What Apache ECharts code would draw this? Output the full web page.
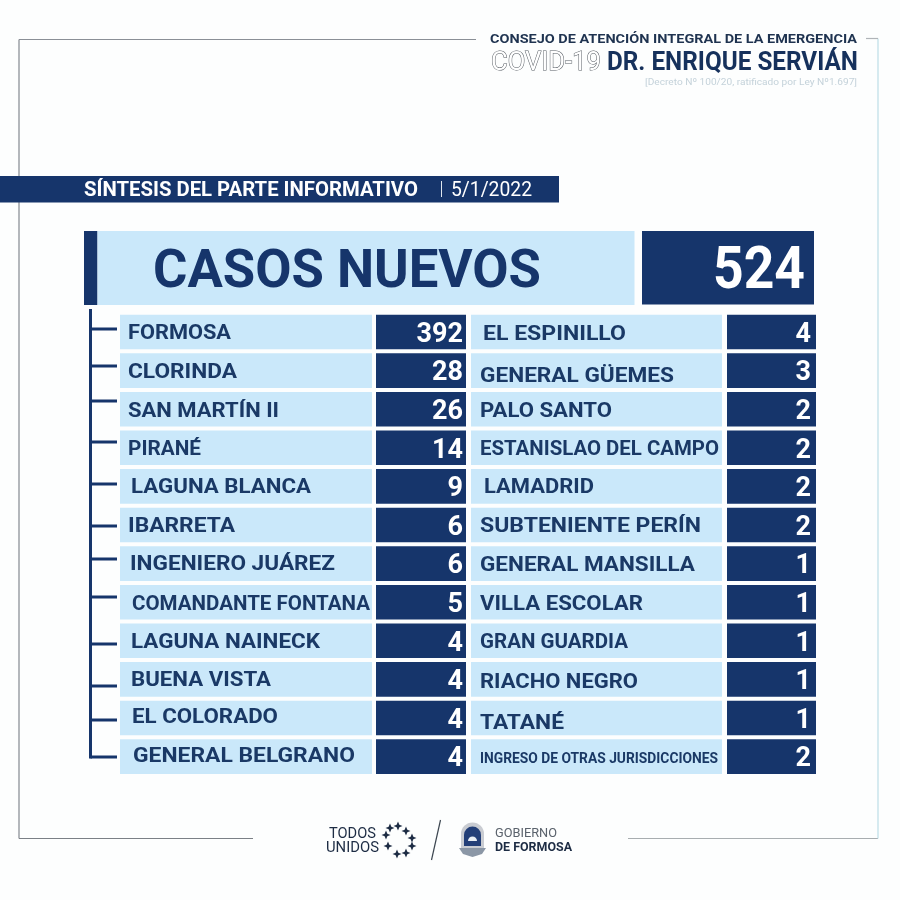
<!DOCTYPE html>
<html><head><meta charset="utf-8">
<style>html,body{margin:0;padding:0;background:#fdfefe}#c{width:900px;height:900px}</style>
<script src="https://cdn.jsdelivr.net/npm/echarts@6/dist/echarts.min.js"></script>
</head><body><div id="c"></div>
<script>
// ---- data ----
const leftCities = ['FORMOSA','CLORINDA','SAN MARTÍN II','PIRANÉ','LAGUNA BLANCA','IBARRETA','INGENIERO JUÁREZ','COMANDANTE FONTANA','LAGUNA NAINECK','BUENA VISTA','EL COLORADO','GENERAL BELGRANO'];
const leftValues = [392,28,26,14,9,6,6,5,4,4,4,4];
const rightCities = ['EL ESPINILLO','GENERAL GÜEMES','PALO SANTO','ESTANISLAO DEL CAMPO','LAMADRID','SUBTENIENTE PERÍN','GENERAL MANSILLA','VILLA ESCOLAR','GRAN GUARDIA','RIACHO NEGRO','TATANÉ','INGRESO DE OTRAS JURISDICCIONES'];
const rightValues = [4,3,2,2,2,2,1,1,1,1,1,2];
const totalCases = 524;
const headingText = 'CASOS NUEVOS';
const bandTitle = 'SÍNTESIS DEL PARTE INFORMATIVO';
const bandDate = '5/1/2022';

// ---- layout of the hand-set labels (separate from data): [dx, dy, width] ----
const leftFit = [[8,0,103],[8,1,109],[8,1,151],[8,0,73],[11,0,180],[8,0,107],[10,0,205],[12,1,238],[11,0,189],[11,0,140],[12,-2,146],[13,-1,222]];
const rightFit = [[12,1,143],[9,5,194],[9,1,132],[9,0,239],[13,0,110],[9,0,221],[9,1,215],[9,1,163],[9,0,148],[9,2,158],[9,4,84],[9,2,238]];
const treeTicks = [329,366,401,442,484,526,559,597,644,686,720,757];
const DARK='#16356b', LIGHT='#cae8fa', INK='#1a3966', FONT='Roboto';
const CAP=0.075; // em shift so capitals centre on the given y

const mctx=document.createElement('canvas').getContext('2d');
function scaleFor(text,size,weight,w,family){mctx.font=weight+' '+size+'px '+(family||FONT);return w/mctx.measureText(text).width;}
function T(text,x,cy,size,weight,fill,w,extra){
  const sx=w?scaleFor(text,size,weight,w):1;
  return {type:'text',x:x,y:cy+size*CAP,scaleX:sx,silent:true,
    style:Object.assign({text:text,fontFamily:FONT,fontSize:size,fontWeight:weight,fill:fill,align:'left',verticalAlign:'middle'},extra||{})};
}
function R(x,y,w,h,fill){return {type:'rect',shape:{x:x,y:y,width:w,height:h},style:{fill:fill},silent:true};}
function L(x1,y1,x2,y2,c,lw){return {type:'line',shape:{x1,y1,x2,y2},style:{stroke:c,lineWidth:lw},silent:true};}
function P(points,fill){return {type:'polygon',shape:{points:points},style:{fill:fill},silent:true};}
function star(cx,cy,r){const k=r*0.3;return P([[cx,cy-r],[cx+k,cy-k],[cx+r,cy],[cx+k,cy+k],[cx,cy+r],[cx-k,cy+k],[cx-r,cy],[cx-k,cy-k]],'#1d2c44');}

function rowRenderer(cities,fit,labelW,gap,valuePad){
  return function(params,api){
    const i=params.dataIndex, rect=params.coordSys;
    const yc=api.coord([0,api.value(1)])[1];
    const band=api.size([0,1])[1], h=band-4;
    const name=cities[i], f=fit[i], small=name.length>25, size=small?14:21;
    const vx=rect.x+labelW+gap;
    return {type:'group',children:[
      {type:'rect',shape:{x:rect.x,y:yc-h/2,width:labelW,height:h},style:{fill:LIGHT}},
      {type:'rect',shape:{x:vx,y:yc-h/2,width:rect.width-labelW-gap,height:h},style:{fill:DARK}},
      {type:'text',x:rect.x+f[0],y:yc+f[1]+size*CAP,scaleX:scaleFor(name,size,'bold',f[2]),
        style:{text:name,fontFamily:FONT,fontWeight:'bold',fontSize:size,fill:INK,align:'left',verticalAlign:'middle'}},
      {type:'text',x:rect.x+rect.width-valuePad,y:yc+1+27*CAP,
        style:{text:String(api.value(0)),fontFamily:FONT,fontWeight:'bold',fontSize:27,fill:'#fff',align:'right',verticalAlign:'middle'}}
    ]};
  };
}
function gridSet(idx,left,width,cities){
  return {
    grid:{left:left,width:width,top:312.7,height:463.2,containLabel:false},
    x:{type:'value',gridIndex:idx,min:0,max:400,show:false},
    y:{type:'category',gridIndex:idx,data:cities,inverse:true,show:false}
  };
}
const gA=gridSet(0,120,346,leftCities), gB=gridSet(1,471,345,rightCities);

const shield=[
  {type:'circle',shape:{cx:472.5,cy:834,r:11.5},style:{fill:'#c9ccd2'},silent:true},
  R(461,834,23,14,'#c9ccd2'),
  {type:'circle',shape:{cx:472.5,cy:835,r:8.5},style:{fill:'#233f78'},silent:true},
  R(464,835,17,11,'#233f78'),
  {type:'circle',shape:{cx:472.5,cy:841,r:4.5},style:{fill:'#e8eef4'},silent:true},
  R(464,841,17,5,'#233f78'),
  P([[459,848],[486,848],[482,854],[472.5,857],[463,854]],'#8b97a6')
];

const graphics=[
  // frame
  L(19,39.5,476,39.5,'#8a8f96',1.2),L(19,39.5,19,838.5,'#84888f',1.2),L(19,838.5,253,838.5,'#7b8086',1.2),
  L(628,838.5,878,838.5,'#a8adb0',1.2),L(878,38.5,878,838.5,'#bcdde6',1.2),L(866,38.5,878,38.5,'#b0b4b8',1.2),
  // header
  T('CONSEJO DE ATENCIÓN INTEGRAL DE LA EMERGENCIA',490,38.5,13.5,'bold','#1f3350',367),
  T('COVID-19',491,61.5,25,'normal','#fff',110,{stroke:'#555b62',lineWidth:1}),
  T('DR. ENRIQUE SERVIÁN',607,61.5,25,'bold','#16315c',251),
  T('[Decreto Nº 100/20, ratificado por Ley Nº1.697]',645,82,9.5,'normal','#c4d2da',212),
  // band
  R(0,176,559,26.5,DARK),
  T(bandTitle,84,189.5,21,'bold','#fff',334),
  R(441,181,1,16,'#dfe6ee'),
  T(bandDate,451,189.5,20,'normal','#fff',81),
  // big heading
  R(84,231,13.5,74,DARK),R(97.5,231,537,74,LIGHT),R(642,231,172,73.5,DARK),
  T(headingText,153,269.5,54,'bold',DARK,388),
  T(String(totalCases),713,268.5,59,'bold','#fff',92),
  // tree
  L(90.5,309,90.5,758.5,DARK,3)
].concat(treeTicks.map(y=>L(90.5,y,117,y,DARK,3))).concat([
  // footer
  T('TODOS',329,833,14,'normal','#1d2c44',47),
  T('UNIDOS',326,847,14,'normal','#1d2c44',53),
  L(440.5,820,431.5,860,'#3c4650',1.2),
  T('GOBIERNO',495,833,12.5,'normal','#5a626c',62),
  T('DE FORMOSA',495,847,12.5,'bold','#1d2c44',77)
]).concat([[390,828],[398,826],[406,831],[412,838],[412,846],[406,853],[397,854],[388,846],[386,835]].map(p=>star(p[0],p[1],4.5))).concat(shield);

const chart=echarts.init(document.getElementById('c'),null,{renderer:'canvas'});
chart.setOption({
  animation:false,
  backgroundColor:'#fdfefe',
  grid:[gA.grid,gB.grid],
  xAxis:[gA.x,gB.x],
  yAxis:[gA.y,gB.y],
  series:[
    {type:'custom',xAxisIndex:0,yAxisIndex:0,encode:{x:0,y:1},data:leftValues.map((v,i)=>[v,leftCities[i]]),renderItem:rowRenderer(leftCities,leftFit,252,4,3)},
    {type:'custom',xAxisIndex:1,yAxisIndex:1,encode:{x:0,y:1},data:rightValues.map((v,i)=>[v,rightCities[i]]),renderItem:rowRenderer(rightCities,rightFit,251,5,5)}
  ],
  graphic:{elements:graphics}
});
</script></body></html>
